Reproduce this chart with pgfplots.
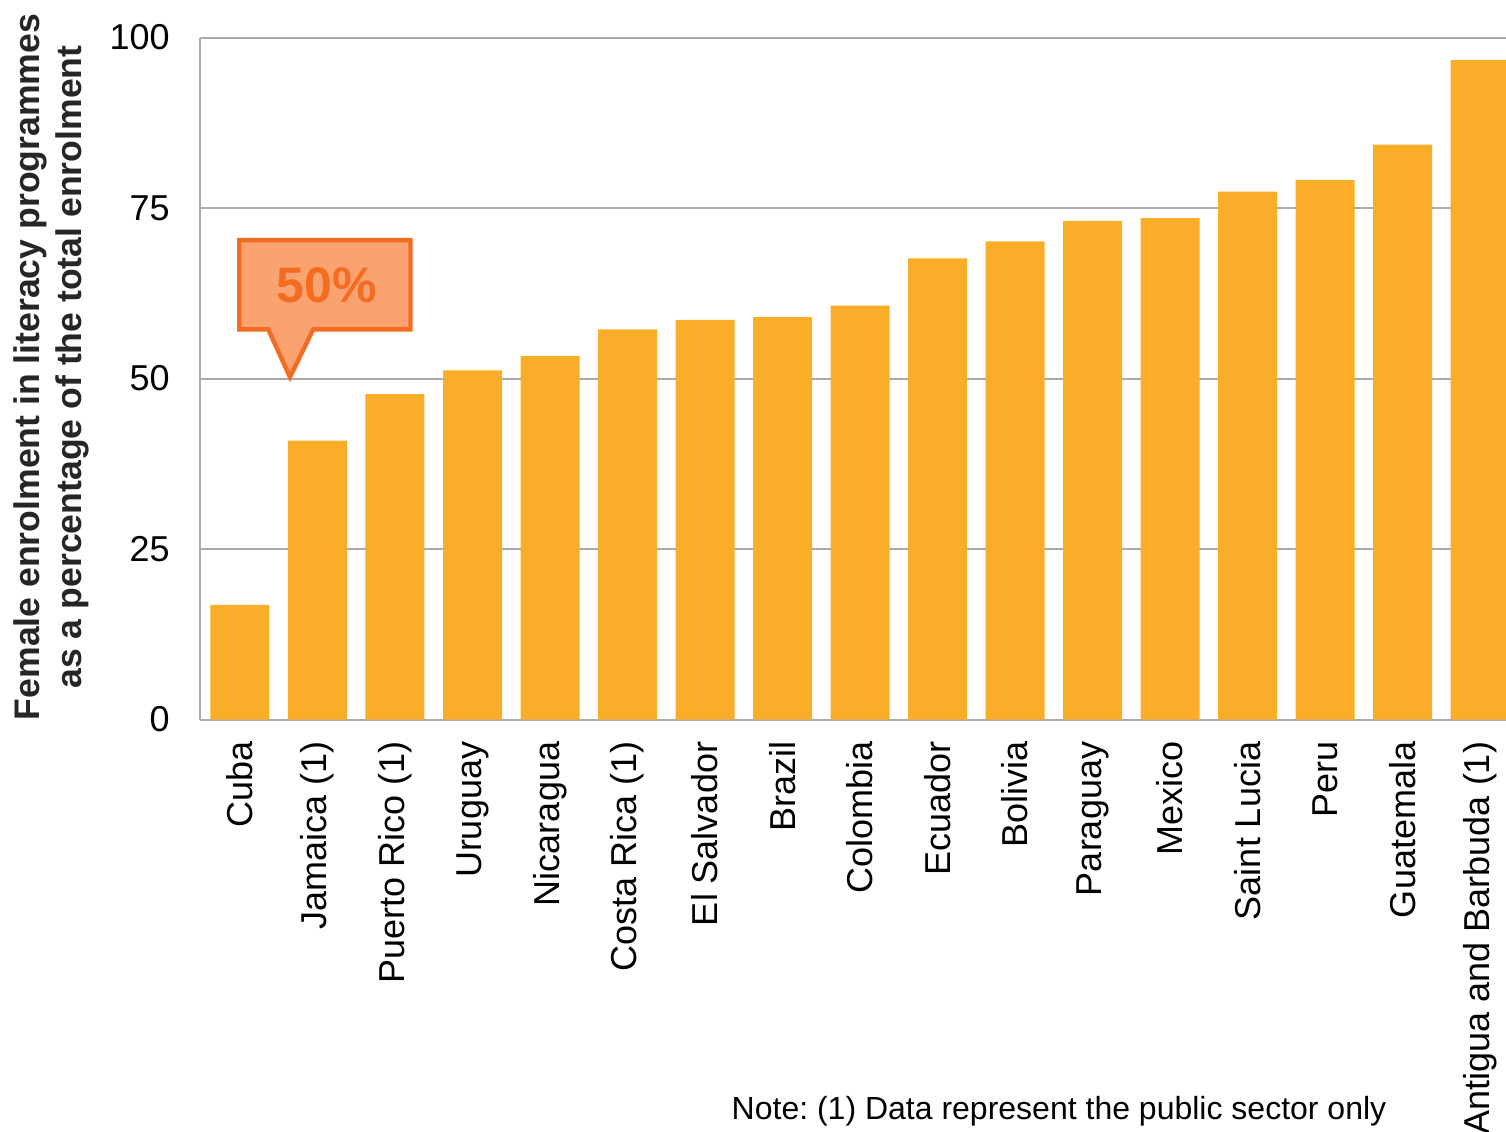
\documentclass[border=0pt]{standalone}
\usepackage{fontspec}
\setmainfont{Liberation Sans}
\usepackage{pgfplots}
\pgfplotsset{compat=1.18}
\definecolor{barc}{RGB}{249,173,40}
\definecolor{calloutfill}{RGB}{250,163,112}
\definecolor{calloutedge}{RGB}{243,108,33}
\definecolor{gridc}{RGB}{170,170,170}
\begin{document}
\frenchspacing
\begin{tikzpicture}
\begin{axis}[
  scale only axis,
  width=653pt, height=341pt,
  xmin=-0.516, xmax=16.335,
  ymin=0, ymax=100,
  ytick={0,25,50,75,100},
  xtick=data,
  xticklabels={Cuba,Jamaica (1),Puerto Rico (1),Uruguay,Nicaragua,Costa Rica (1),El Salvador,Brazil,Colombia,Ecuador,Bolivia,Paraguay,Mexico,Saint Lucia,Peru,Guatemala,Antigua and Barbuda (1)},
  xticklabel style={rotate=90, anchor=east, font=\fontsize{18}{21}\selectfont, inner sep=0pt, xshift=-11pt},
  yticklabel style={font=\fontsize{18}{21}\selectfont, inner sep=0pt, xshift=-15pt},
  /pgf/number format/assume math mode=true,
  major tick length=0pt,
  ymajorgrids,
  grid style={gridc, line width=1pt},
  axis x line*=bottom,
  axis y line*=left,
  axis line style={gridc, line width=1pt},
  ybar, bar width=29.5pt,
]
\addplot[fill=barc, draw=none] coordinates {
(0,16.8) (1,40.9) (2,47.7) (3,51.2) (4,53.3) (5,57.2) (6,58.6) (7,59.0) (8,60.7)
(9,67.6) (10,70.1) (11,73.1) (12,73.5) (13,77.4) (14,79.1) (15,84.3) (16,96.7)
};
\draw[fill=calloutfill, draw=calloutedge, line width=2.2pt, line join=miter]
  (axis cs:-0.01,70.3) -- (axis cs:2.2,70.3) -- (axis cs:2.2,57.2)
  -- (axis cs:0.945,57.2) -- (axis cs:0.645,50.2) -- (axis cs:0.365,57.2)
  -- (axis cs:-0.01,57.2) -- cycle;
\node[text=calloutedge, font=\fontsize{25}{28}\selectfont\bfseries] at (axis cs:1.12,63.7) {50\%};
\end{axis}
\node[rotate=90, align=center, font=\fontsize{17.8}{21}\selectfont\bfseries, text=black!85] at (-74.5pt,176.25pt)
  {Female enrolment in literacy programmes\\as a percentage of the total enrolment};
\node[font=\fontsize{16}{19}\selectfont] at (429.5pt,-195.75pt) {Note: (1) Data represent the public sector only};
\pgfresetboundingbox
\useasboundingbox (-100pt,-205.75pt) rectangle (653pt,359.75pt);
\end{tikzpicture}
\end{document}
